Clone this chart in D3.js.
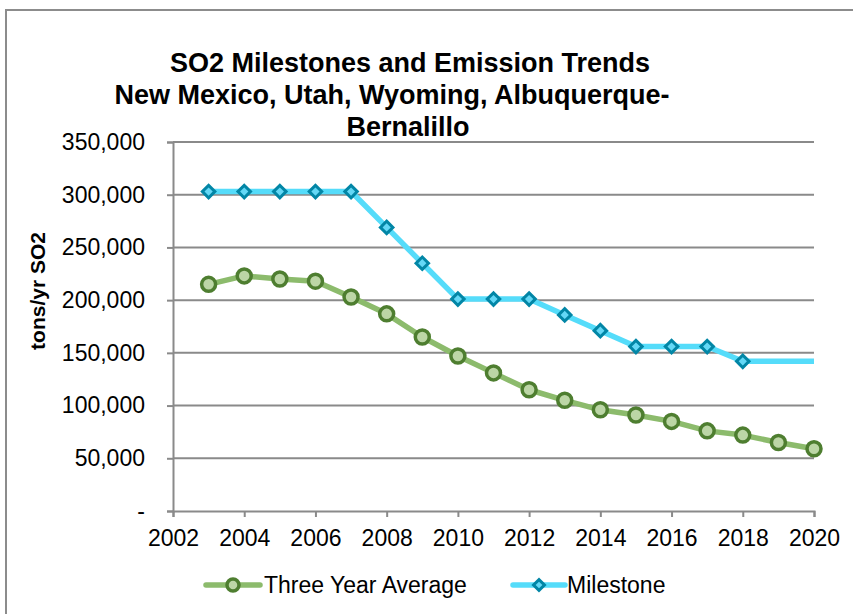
<!doctype html>
<html>
<head>
<meta charset="utf-8">
<script src="https://cdn.jsdelivr.net/npm/d3@7"></script>
<style>
  body { margin: 0; background: #fff; }
  text { font-family: "Liberation Sans", Arial, sans-serif; fill: #000; }
</style>
</head>
<body>
<div id="chart"></div>
<script>
// data
var years = [2003, 2004, 2005, 2006, 2007, 2008, 2009, 2010, 2011, 2012,
             2013, 2014, 2015, 2016, 2017, 2018, 2019, 2020];
var threeYearAvg = [215000, 223000, 220000, 218000, 203000, 187000, 165000, 147000, 131000,
                    115000, 105000, 96000, 91000, 85000, 76000, 72000, 65000, 59000];
var milestone = [303000, 303000, 303000, 303000, 303000, 269000, 235000, 201000, 201000,
                 201000, 186000, 171000, 156000, 156000, 156000, 142000, 142000, 142000];
var milestoneMarkerLast = 2018;   // no markers after this year
var xTicks = [2002, 2004, 2006, 2008, 2010, 2012, 2014, 2016, 2018, 2020];
var yTicks = [0, 50000, 100000, 150000, 200000, 250000, 300000, 350000];
var titleLines = ["SO2 Milestones and Emission Trends",
                  "New Mexico, Utah, Wyoming, Albuquerque-",
                  "Bernalillo"];

var width = 853, height = 614;
var fs = 23;
var svg = d3.select("#chart").append("svg")
  .attr("width", width).attr("height", height);

// chart frame
svg.append("rect").attr("x", 6).attr("y", 10).attr("width", 860).attr("height", 620)
  .attr("fill", "none").attr("stroke", "#8c8c8c").attr("stroke-width", 2);

var x = d3.scaleLinear().domain([2002, 2020]).range([173, 814]);
var y = d3.scaleLinear().domain([0, 350000]).range([511, 142]);

// gridlines
svg.append("g").selectAll("line").data(yTicks.filter(d => d > 0))
  .enter().append("line")
  .attr("x1", x(2002)).attr("x2", x(2020))
  .attr("y1", d => y(d)).attr("y2", d => y(d))
  .attr("stroke", "#8a8a8a").attr("stroke-width", 2);

// y axis
var yAxis = svg.append("g").attr("transform", "translate(" + x(2002) + ",0)")
  .call(d3.axisLeft(y).tickValues(yTicks).tickSizeOuter(0).tickSize(6).tickPadding(22)
    .tickFormat(d => d === 0 ? "-" : d3.format(",")(d)));
yAxis.select(".domain").attr("stroke", "#8a8a8a").attr("stroke-width", 2);
yAxis.selectAll(".tick line").attr("stroke", "#8a8a8a").attr("stroke-width", 2);
yAxis.selectAll("text").attr("font-size", fs).attr("fill", "#000")
  .attr("font-family", "Liberation Sans, Arial, sans-serif");

// x axis
var xAxis = svg.append("g").attr("transform", "translate(0," + y(0) + ")")
  .call(d3.axisBottom(x).tickValues(xTicks).tickSizeOuter(0).tickSize(6).tickPadding(13)
    .tickFormat(d3.format("d")));
xAxis.select(".domain").attr("stroke", "#8a8a8a").attr("stroke-width", 2);
xAxis.selectAll(".tick line").attr("stroke", "#8a8a8a").attr("stroke-width", 2);
xAxis.selectAll("text").attr("font-size", fs).attr("fill", "#000")
  .attr("font-family", "Liberation Sans, Arial, sans-serif");

// axis title
svg.append("text")
  .attr("transform", "translate(45,291) rotate(-90)")
  .attr("text-anchor", "middle").attr("font-size", 21).attr("font-weight", "bold")
  .text("tons/yr SO2");

// title
var titleX = [410, 392, 408];
svg.append("g").selectAll("text").data(titleLines).enter().append("text")
  .attr("x", (d, i) => titleX[i]).attr("y", (d, i) => 72 + i * 32)
  .attr("text-anchor", "middle").attr("font-size", 27).attr("font-weight", "bold")
  .text(d => d);

var line = d3.line().x(d => x(d[0])).y(d => y(d[1]));

var avgPts = years.map((yr, i) => [yr, threeYearAvg[i]]);
var msPts = years.map((yr, i) => [yr, milestone[i]]);

var green = "#8cbb6c", greenDark = "#4e7e30", greenFill = "#bcd6a6";
var cyan = "#55dcfa", cyanDark = "#0286a6", cyanFill = "#64d8f6";

svg.append("path").datum(msPts).attr("d", line)
  .attr("fill", "none").attr("stroke", cyan).attr("stroke-width", 5.5)
  .attr("stroke-linejoin", "round");
svg.append("path").datum(avgPts).attr("d", line)
  .attr("fill", "none").attr("stroke", green).attr("stroke-width", 5.5)
  .attr("stroke-linejoin", "round");

var diamond = d3.symbol().type(d3.symbolSquare).size(78);

svg.append("g").selectAll("path").data(msPts.filter(d => d[0] <= milestoneMarkerLast))
  .enter().append("path")
  .attr("d", diamond)
  .attr("transform", d => "translate(" + x(d[0]) + "," + y(d[1]) + ") rotate(45)")
  .attr("fill", cyanFill).attr("stroke", cyanDark).attr("stroke-width", 3);

svg.append("g").selectAll("circle").data(avgPts).enter().append("circle")
  .attr("cx", d => x(d[0])).attr("cy", d => y(d[1])).attr("r", 7)
  .attr("fill", greenFill).attr("stroke", greenDark).attr("stroke-width", 3.5);

// legend
var lg = svg.append("g");
lg.append("line").attr("x1", 206).attr("x2", 260).attr("y1", 585).attr("y2", 585)
  .attr("stroke", green).attr("stroke-width", 5.5).attr("stroke-linecap", "round");
lg.append("circle").attr("cx", 233).attr("cy", 585).attr("r", 6)
  .attr("fill", greenFill).attr("stroke", greenDark).attr("stroke-width", 3.5);
lg.append("text").attr("x", 264).attr("y", 593).attr("font-size", fs).text("Three Year Average");

lg.append("line").attr("x1", 513).attr("x2", 565).attr("y1", 585).attr("y2", 585)
  .attr("stroke", cyan).attr("stroke-width", 5.5).attr("stroke-linecap", "round");
lg.append("path").attr("d", d3.symbol().type(d3.symbolSquare).size(60))
  .attr("transform", "translate(539,585) rotate(45)")
  .attr("fill", cyanFill).attr("stroke", cyanDark).attr("stroke-width", 3);
lg.append("text").attr("x", 567).attr("y", 593).attr("font-size", fs).text("Milestone");
</script>
</body>
</html>
